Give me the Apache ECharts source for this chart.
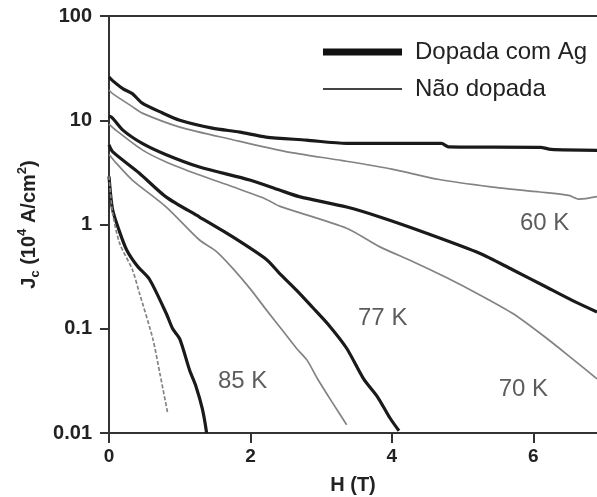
<!DOCTYPE html>
<html>
<head>
<meta charset="utf-8">
<script src="https://cdn.jsdelivr.net/npm/echarts@6/dist/echarts.min.js"></script>
<style>
  html, body { margin: 0; padding: 0; background: #fff; }
  #chart { width: 597px; height: 497px; }
</style>
</head>
<body>
<div id="chart"></div>
<script>
// H (T) vs Jc (10^4 A/cm2)
const dop60 = [[0, 26], [0.05, 24], [0.2, 20], [0.33, 18], [0.47, 14.6], [0.75, 11.8], [1.0, 10], [1.46, 8.4], [1.85, 7.7], [2.22, 6.9], [2.79, 6.45], [3.36, 6.0], [4.7, 6.0], [4.8, 5.55], [6.1, 5.5], [6.25, 5.25], [6.9, 5.15]]
const und60 = [[0, 19.5], [0.05, 18], [0.33, 13.5], [0.47, 11.7], [1.0, 8.6], [1.75, 6.5], [2.5, 5.0], [3.3, 4.1], [4.0, 3.4], [4.67, 2.7], [5.4, 2.3], [6.09, 2.05], [6.5, 1.9], [6.65, 1.75], [6.9, 1.85]]
const dop70 = [[0, 11], [0.05, 10.5], [0.2, 8], [0.47, 6.0], [0.8, 4.7], [1.28, 3.56], [1.99, 2.67], [2.41, 2.14], [2.69, 1.85], [3.36, 1.47], [3.83, 1.18], [4.5, 0.82], [5.24, 0.53], [5.7, 0.37], [6.19, 0.25], [6.6, 0.18], [6.9, 0.145]]
const und70 = [[0, 9.2], [0.1, 8], [0.47, 5.2], [0.8, 4.0], [1.28, 2.98], [1.75, 2.3], [2.22, 1.75], [2.41, 1.5], [3.36, 0.92], [3.83, 0.61], [4.3, 0.44], [4.77, 0.31], [5.25, 0.21], [5.71, 0.14], [6.1, 0.09], [6.5, 0.055], [6.9, 0.033]]
const dop77 = [[0, 5.8], [0.05, 5.0], [0.43, 3.1], [0.81, 1.83], [1.28, 1.18], [1.75, 0.76], [2.23, 0.46], [2.41, 0.34], [2.65, 0.235], [2.88, 0.16], [3.1, 0.11], [3.36, 0.065], [3.6, 0.033], [3.8, 0.022], [3.97, 0.014], [4.1, 0.0105]]
const und77 = [[0, 4.7], [0.1, 3.9], [0.33, 2.67], [0.81, 1.47], [1.28, 0.71], [1.52, 0.55], [1.75, 0.38], [2.0, 0.24], [2.23, 0.15], [2.46, 0.095], [2.65, 0.065], [2.8, 0.05], [2.95, 0.033], [3.15, 0.02], [3.36, 0.012]]
const dop85 = [[0, 2.9], [0.05, 1.4], [0.15, 0.85], [0.25, 0.57], [0.4, 0.4], [0.57, 0.3], [0.81, 0.14], [0.9, 0.1], [1.0, 0.08], [1.14, 0.04], [1.23, 0.028], [1.32, 0.017], [1.38, 0.01]]
const und85 = [[0, 2.9], [0.05, 1.3], [0.15, 0.66], [0.33, 0.37], [0.43, 0.22], [0.62, 0.08], [0.72, 0.037], [0.83, 0.0155]]

const xTicks = [0, 2, 4, 6]
const tempText = ['60 K', '77 K', '70 K', '85 K']
const tempH = [6.16, 3.87, 5.86, 1.89]
const tempJ = [1.03, 0.126, 0.026, 0.0314]

const font = 'Liberation Sans, Arial, sans-serif'
const dark = '#1a1a1a'
const grey = '#838383'

const chart = echarts.init(document.getElementById('chart'))

function thick(data) {
  return {
    name: 'Dopada com Ag', type: 'line', data: data, showSymbol: false, smooth: 0.25,
    itemStyle: { color: dark }, lineStyle: { color: dark, width: 3.2 }
  }
}
function thin(data, dashed) {
  return {
    name: 'Não dopada', type: 'line', data: data, showSymbol: false, smooth: 0.25,
    itemStyle: { color: grey }, lineStyle: { color: grey, width: 1.7, type: dashed ? [4, 2] : 'solid' }
  }
}

chart.setOption({
  animation: false,
  backgroundColor: '#fff',
  grid: { left: 109, right: 0, top: 16, bottom: 64, containLabel: false, outerBoundsMode: 'none' },
  legend: [
    {
      left: 323, top: 40, padding: 0, icon: 'rect', itemWidth: 79, itemHeight: 7,
      data: [{ name: 'Dopada com Ag', itemStyle: { color: '#111' } }],
      textStyle: { fontFamily: font, fontSize: 24, color: '#222', padding: [0, 0, 0, 8] },
      selectedMode: false
    },
    {
      left: 323, top: 77, padding: 0, icon: 'rect', itemWidth: 79, itemHeight: 2,
      data: [{ name: 'Não dopada', itemStyle: { color: '#444' } }],
      textStyle: { fontFamily: font, fontSize: 24, color: '#222', padding: [0, 0, 0, 8] },
      selectedMode: false
    }
  ],
  xAxis: [
    {
      type: 'value', min: 0, max: 6.9, interval: 2,
      name: 'H (T)', nameLocation: 'middle', nameGap: 42,
      nameTextStyle: { fontFamily: font, fontSize: 20, fontWeight: 'bold', color: '#222' },
      axisLine: { lineStyle: { color: '#333', width: 2 } },
      axisTick: { inside: false, length: 10, lineStyle: { color: '#333', width: 2 }, customValues: xTicks },
      axisLabel: { margin: 14, fontFamily: font, fontSize: 19, fontWeight: 'bold', color: '#222', customValues: xTicks },
      splitLine: { show: false }
    },
    {
      type: 'value', position: 'top', min: 0, max: 6.9,
      axisLine: { lineStyle: { color: '#333', width: 2 } },
      axisTick: { show: false }, axisLabel: { show: false }, splitLine: { show: false }
    }
  ],
  yAxis: {
    type: 'log', logBase: 10, min: 0.01, max: 100,
    name: '{t|J}{s|c}{t| (10}{p|4}{t| A/cm}{p|2}{t|)}',
    nameLocation: 'middle', nameGap: 66,
    nameTextStyle: {
      rich: {
        t: { fontFamily: font, fontSize: 20, fontWeight: 'bold', color: '#222', lineHeight: 26 },
        s: { fontFamily: font, fontSize: 13, fontWeight: 'bold', color: '#222', lineHeight: 12, verticalAlign: 'bottom' },
        p: { fontFamily: font, fontSize: 13, fontWeight: 'bold', color: '#222', lineHeight: 12, verticalAlign: 'top' }
      }
    },
    axisLine: { show: true, lineStyle: { color: '#333', width: 2 } },
    axisTick: { show: true, inside: false, length: 9, lineStyle: { color: '#333', width: 2 } },
    axisLabel: { margin: 17, fontFamily: font, fontSize: 20, fontWeight: 'bold', color: '#222' },
    minorTick: { show: false },
    splitLine: { show: false }
  },
  series: [
    thick(dop60), thin(und60),
    thick(dop70), thin(und70),
    thick(dop77), thin(und77),
    thick(dop85), thin(und85, true),
    {
      type: 'scatter', symbolSize: 0, silent: true,
      data: tempText.map((t, i) => [tempH[i], tempJ[i], t]),
      label: {
        show: true, position: 'inside', formatter: p => p.data[2],
        fontFamily: font, fontSize: 24, color: '#333'
      }
    }
  ]
})
</script>
</body>
</html>
